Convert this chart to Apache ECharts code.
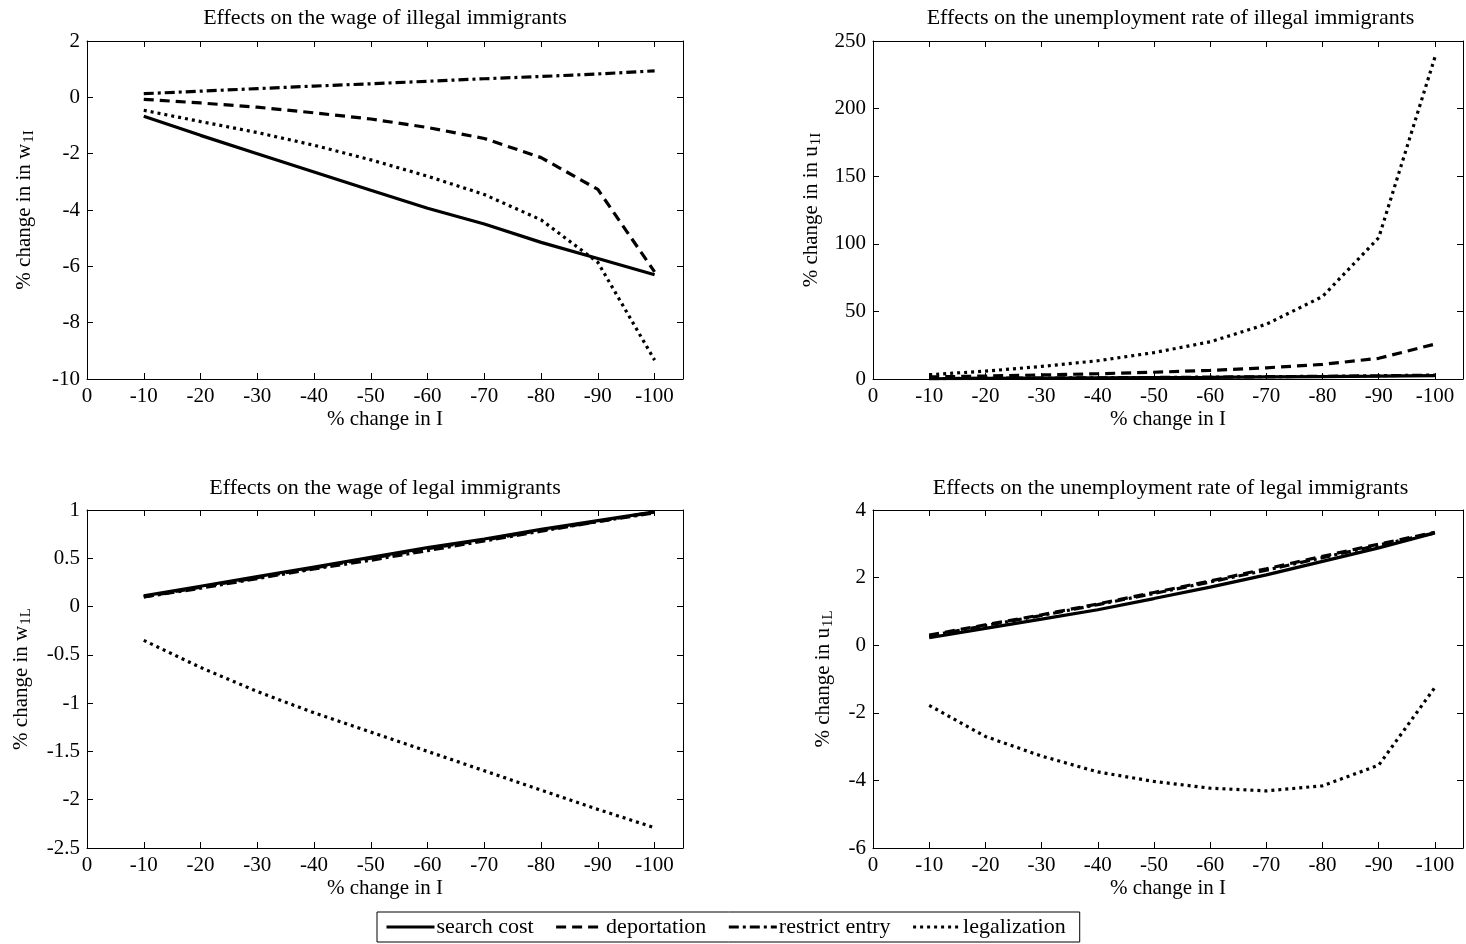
<!DOCTYPE html>
<html><head><meta charset="utf-8">
<script src="https://cdn.jsdelivr.net/npm/echarts@6/dist/echarts.min.js"></script>
<style>html,body{margin:0;padding:0;background:#fff}#c{width:1466px;height:944px}</style>
</head><body><div id="c"></div>
<script>
// ---- data ----
const xValues = [-10, -20, -30, -40, -50, -60, -70, -80, -90, -100];
const seriesNames = ['search cost', 'deportation', 'restrict entry', 'legalization'];
const panelTitles = [
  'Effects on the wage of illegal immigrants',
  'Effects on the unemployment rate of illegal immigrants',
  'Effects on the wage of legal immigrants',
  'Effects on the unemployment rate of legal immigrants'
];
const xAxisName = '% change in I';
const yNames = [['% change in in w', '1I'], ['% change in in u', '1I'], ['% change in w', '1L'], ['% change in u', '1L']];
const yRanges = [[-10, 2, 2], [0, 250, 50], [-2.5, 1, 0.5], [-6, 4, 2]];

// wage of illegal immigrants
const wIllegalSearch   = [-0.67, -1.35, -2.0, -2.65, -3.3, -3.94, -4.5, -5.15, -5.72, -6.3];
const wIllegalDeport   = [-0.07, -0.2, -0.35, -0.55, -0.77, -1.07, -1.46, -2.14, -3.27, -6.2];
const wIllegalRestrict = [0.13, 0.22, 0.31, 0.4, 0.48, 0.57, 0.66, 0.74, 0.83, 0.94];
const wIllegalLegal    = [-0.46, -0.86, -1.25, -1.7, -2.22, -2.8, -3.45, -4.35, -5.86, -9.33];
// unemployment of illegal immigrants
const uIllegalSearch   = [0.2, 0.4, 0.6, 0.8, 1.0, 1.2, 1.5, 1.8, 2.1, 2.5];
const uIllegalDeport   = [1.5, 2.2, 3.0, 3.9, 5.0, 6.4, 8.3, 10.8, 15.3, 25.8];
const uIllegalRestrict = [0.3, 0.5, 0.7, 0.9, 1.1, 1.4, 1.7, 2.0, 2.4, 2.9];
const uIllegalLegal    = [3.2, 5.8, 9.3, 13.5, 19.5, 27.5, 40.5, 61, 104.5, 238];
// wage of legal immigrants
const wLegalSearch   = [0.11, 0.21, 0.31, 0.41, 0.51, 0.61, 0.7, 0.8, 0.89, 0.98];
const wLegalDeport   = [0.1, 0.2, 0.3, 0.4, 0.5, 0.6, 0.69, 0.79, 0.88, 0.98];
const wLegalRestrict = [0.1, 0.19, 0.29, 0.39, 0.48, 0.58, 0.68, 0.78, 0.88, 0.97];
const wLegalLegal    = [-0.35, -0.63, -0.88, -1.1, -1.3, -1.5, -1.7, -1.9, -2.1, -2.29];
// unemployment of legal immigrants
const uLegalSearch   = [0.22, 0.5, 0.77, 1.05, 1.38, 1.72, 2.08, 2.48, 2.88, 3.32];
const uLegalDeport   = [0.3, 0.6, 0.9, 1.22, 1.56, 1.9, 2.26, 2.63, 2.99, 3.34];
const uLegalRestrict = [0.28, 0.58, 0.88, 1.2, 1.53, 1.87, 2.22, 2.59, 2.96, 3.32];
const uLegalLegal    = [-1.78, -2.7, -3.28, -3.75, -4.03, -4.23, -4.31, -4.16, -3.55, -1.25];

const panelData = [
  [wIllegalSearch, wIllegalDeport, wIllegalRestrict, wIllegalLegal],
  [uIllegalSearch, uIllegalDeport, uIllegalRestrict, uIllegalLegal],
  [wLegalSearch, wLegalDeport, wLegalRestrict, wLegalLegal],
  [uLegalSearch, uLegalDeport, uLegalRestrict, uLegalLegal]
];

// ---- layout / style ----
const FONT = 'Liberation Serif';
const FS = 21;
const grids = [
  {left: 87, top: 41, width: 596, height: 338},
  {left: 873, top: 41, width: 597, height: 338},
  {left: 87, top: 510, width: 596, height: 338},
  {left: 873, top: 510, width: 597, height: 338}
];
const titleTops = [7, 7, 477, 477];
const yNameGaps = [50, 49, 53, 37];
const lineTypes = ['solid', [10, 6], [10, 4, 3, 4], [3, 4]];

const chart = echarts.init(document.getElementById('c'));
const option = {
  backgroundColor: '#fff',
  animation: false,
  textStyle: {fontFamily: FONT, color: '#000'},
  title: [], grid: [], xAxis: [], yAxis: [], series: [],
  legend: {
    data: seriesNames, left: 377, top: 912, orient: 'horizontal',
    padding: [4, 14, 4, 8], itemGap: 21, itemWidth: 48, itemHeight: 14,
    borderColor: '#000', borderWidth: 1, borderRadius: 0,
    lineStyle: {width: 3},
    itemStyle: {color: 'rgba(0,0,0,0)', borderColor: 'rgba(0,0,0,0)', borderWidth: 0, opacity: 0},
    textStyle: {fontFamily: FONT, fontSize: 22, color: '#000', padding: [0, 0, 0, -3]}
  }
};
const tickOpts = {show: true, inside: true, length: 6, lineStyle: {color: '#000', width: 1}};
const lineOpts = {show: true, onZero: false, lineStyle: {color: '#000', width: 1}};
const xFmt = v => (Math.abs(v % 10) < 1e-9 ? String(v) : '');

grids.forEach((g, i) => {
  option.grid.push(Object.assign({containLabel: false}, g));
  option.title.push({
    text: panelTitles[i], left: g.left + g.width / 2 - (i % 2 ? 1 : 0), top: titleTops[i],
    textAlign: 'center', padding: 0,
    textStyle: {fontFamily: FONT, fontSize: 22, fontWeight: 'normal', color: '#000'}
  });
  const xBase = {
    type: 'value', gridIndex: i, min: -105, max: 0, inverse: true,
    minInterval: 10, maxInterval: 10, splitNumber: 10,
    axisLine: lineOpts, axisTick: tickOpts, splitLine: {show: false}
  };
  option.xAxis.push(Object.assign({}, xBase, {
    position: 'bottom', name: xAxisName, nameLocation: 'middle', nameGap: 30,
    nameTextStyle: {fontFamily: FONT, fontSize: FS, color: '#000'},
    axisLabel: {fontFamily: FONT, fontSize: FS, color: '#000', margin: 7, formatter: xFmt, showMinLabel: true, showMaxLabel: true}
  }));
  option.xAxis.push(Object.assign({}, xBase, {position: 'top', axisLabel: {show: false}}));
  const r = yRanges[i];
  const yBase = {
    type: 'value', gridIndex: i, min: r[0], max: r[1], interval: r[2],
    axisLine: lineOpts, axisTick: tickOpts, splitLine: {show: false}
  };
  option.yAxis.push(Object.assign({}, yBase, {
    position: 'left',
    name: '{m|' + yNames[i][0] + '}{s|' + yNames[i][1] + '}',
    nameLocation: 'middle', nameGap: yNameGaps[i], nameRotate: 90,
    nameTextStyle: {
      fontFamily: FONT, fontSize: FS, color: '#000',
      rich: {
        m: {fontFamily: FONT, fontSize: FS, color: '#000', lineHeight: 23, verticalAlign: 'top'},
        s: {fontFamily: FONT, fontSize: 15, color: '#000', lineHeight: 15, padding: [14, 0, 0, 1], verticalAlign: 'bottom'}
      }
    },
    axisLabel: {fontFamily: FONT, fontSize: FS, color: '#000', margin: 7}
  }));
  option.yAxis.push(Object.assign({}, yBase, {position: 'right', axisLabel: {show: false}}));
  seriesNames.forEach((name, k) => {
    option.series.push({
      name: name, type: 'line', xAxisIndex: 2 * i, yAxisIndex: 2 * i,
      data: xValues.map((x, j) => [x, panelData[i][k][j]]),
      symbol: 'none', clip: true,
      lineStyle: {color: '#000', width: 3.2, type: lineTypes[k]},
      itemStyle: {color: '#000'}
    });
  });
});
chart.setOption(option);
</script>
</body></html>
